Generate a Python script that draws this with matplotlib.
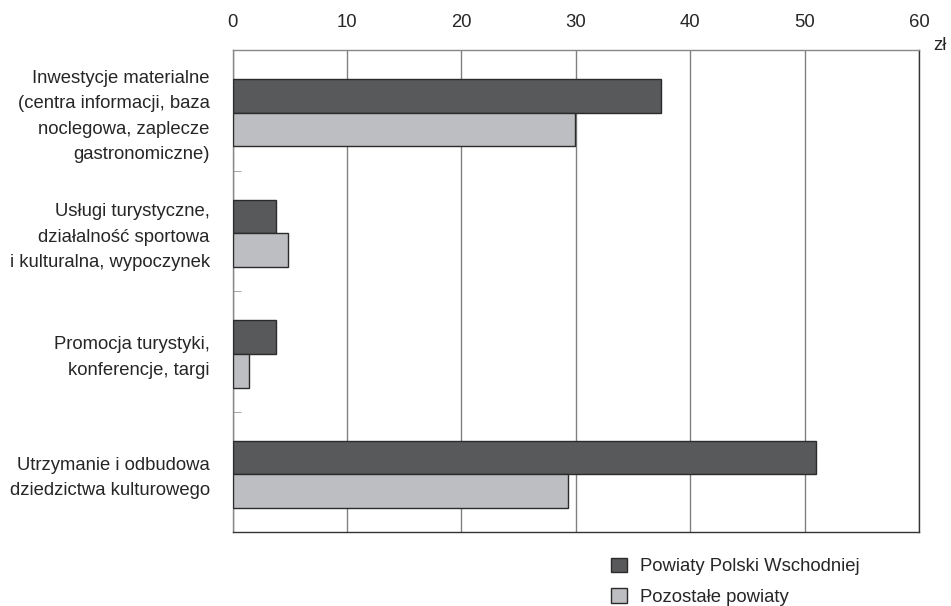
import matplotlib.pyplot as plt
import numpy as np

plt.rcParams['font.family'] = ['Liberation Sans', 'DejaVu Sans']

categories = [
    "Inwestycje materialne\n(centra informacji, baza\nnoclegowa, zaplecze\ngastronomiczne)",
    "Usługi turystyczne,\ndziałalność sportowa\ni kulturalna, wypoczynek",
    "Promocja turystyki,\nkonferencje, targi",
    "Utrzymanie i odbudowa\ndziedzictwa kulturowego",
]
wschod = [37.4, 3.8, 3.8, 51.0]
pozostale = [29.9, 4.8, 1.4, 29.3]
series_names = ["Powiaty Polski Wschodniej", "Pozostałe powiaty"]
xticks = [0, 10, 20, 30, 40, 50, 60]

dark = '#58595b'
light = '#bdbec1'
edge = '#2b2b2b'
txt = '#262626'

fig = plt.figure(figsize=(9.51, 6.06), dpi=100)
ax = fig.add_axes([0.2447, 0.1216, 0.7217, 0.7959])

y = np.arange(len(categories))
h = 0.28
ax.barh(y - h / 2 + 0.02, wschod, height=h, color=dark, edgecolor=edge, linewidth=1, label=series_names[0], zorder=3)
ax.barh(y + h / 2 + 0.02, pozostale, height=h, color=light, edgecolor=edge, linewidth=1, label=series_names[1], zorder=3)

ax.set_xlim(0, 60)
ax.set_ylim(len(categories) - 0.5, -0.5)
ax.xaxis.tick_top()
ax.set_xticks(xticks)
ax.tick_params(axis='x', length=0, pad=14, labelsize=13.3, colors=txt)
ax.grid(axis='x', color='#808080', linewidth=1, zorder=0)

ax.set_yticks(y)
ax.set_yticklabels(categories, fontsize=13.3, linespacing=1.65, color=txt)
ax.tick_params(axis='y', which='major', length=0, pad=16.5)
ax.set_yticks(y[:-1] + 0.5, minor=True)
ax.tick_params(axis='y', which='minor', direction='in', length=6, color='#999999')

for s in ax.spines.values():
    s.set_color('#333333')
    s.set_linewidth(1)
ax.spines['left'].set_color('#888888')
ax.spines['top'].set_color('#888888')

fig.text(933 / 951, 1 - 45 / 606, "zł", fontsize=13.3, ha='left', va='center', color=txt)

leg = fig.legend(loc='upper left', bbox_to_anchor=(0.643, 0.080), frameon=False, fontsize=13.3,
                 handlelength=0.84, handleheight=0.84, handletextpad=0.7, labelspacing=0.69,
                 borderaxespad=0, borderpad=0)
for t in leg.get_texts():
    t.set_color(txt)

fig.savefig('out.png', dpi=100)
